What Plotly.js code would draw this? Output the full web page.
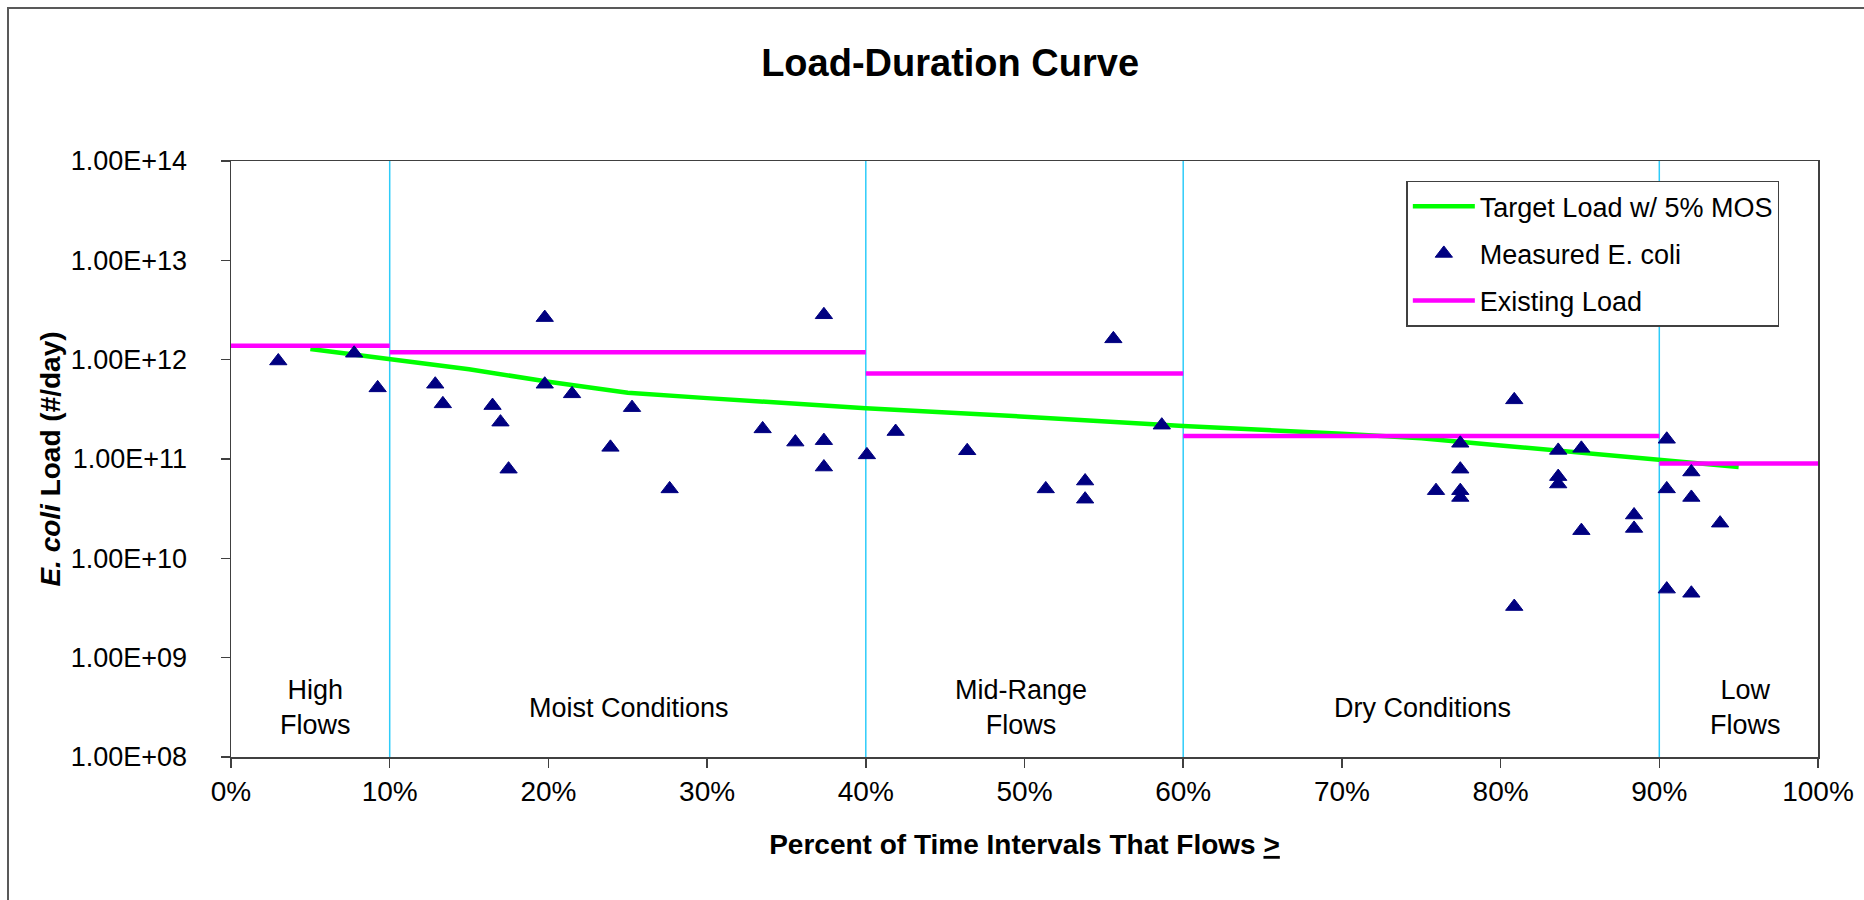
<!DOCTYPE html>
<html>
<head>
<meta charset="utf-8">
<script src="https://cdn.plot.ly/plotly-3.0.1.min.js"></script>
<style>
  html, body { margin: 0; padding: 0; background: #ffffff; overflow: hidden; }
  #wrap { position: relative; width: 1864px; height: 900px; overflow: hidden; background: #ffffff; }
  #chart { width: 1864px; height: 900px; }
  #frame { position: absolute; left: 7px; top: 7px; width: 2000px; height: 1000px;
           border-left: 2px solid #595959; border-top: 2px solid #595959; pointer-events: none; }
  .mask { position: absolute; left: 1852px; width: 12px; background: #ffffff; pointer-events: none; }
</style>
</head>
<body>
<div id="wrap">
  <div id="chart"></div>
  <div class="mask" style="top:10px; height:762px;"></div>
  <div class="mask" style="top:812px; height:88px;"></div>
  <div id="frame"></div>
</div>
<script>
// ---- Data ----
const targetPct  = [5, 10, 15, 20, 25, 30, 40, 50, 60, 70, 75, 80, 85, 90, 95];
const targetLoad = [1.28e12, 1.02e12, 8.0e11, 6.0e11, 4.65e11, 4.1e11, 3.25e11, 2.67e11,
                    2.15e11, 1.8e11, 1.62e11, 1.37e11, 1.16e11, 9.8e10, 8.3e10];

const measPct  = [2.98, 7.76, 9.24, 12.87, 13.35, 16.48, 16.98, 17.49, 19.77, 19.77,
                  21.49, 23.91, 25.27, 27.64, 33.5, 35.56, 37.36, 37.36, 37.36, 40.07,
                  41.88, 46.39, 51.34, 53.82, 53.82, 55.6, 58.65, 75.93, 77.46, 77.46,
                  77.46, 77.46, 80.86, 80.86, 83.63, 83.63, 83.63, 85.09, 85.09, 88.41,
                  88.41, 90.47, 90.47, 90.47, 92.02, 92.02, 92.02, 93.83];
const measLoad = [9.7e11, 1.16e12, 5.2e11, 5.66e11, 3.59e11, 3.45e11, 2.35e11, 7.9e10, 2.65e12, 5.66e11,
                  4.53e11, 1.31e11, 3.29e11, 5.0e10, 2.01e11, 1.48e11, 2.83e12, 1.53e11, 8.3e10, 1.1e11,
                  1.89e11, 1.21e11, 5.0e10, 6.0e10, 3.94e10, 1.62e12, 2.19e11, 4.8e10, 1.44e11, 7.9e10,
                  4.8e10, 4.1e10, 3.94e11, 3.27e9, 1.22e11, 6.65e10, 5.6e10, 1.28e11, 1.9e10, 2.73e10,
                  2.0e10, 1.58e11, 5.0e10, 4.9e9, 7.4e10, 4.1e10, 4.45e9, 2.26e10];

const zoneStart    = [0, 10, 40, 60, 90];
const zoneEnd      = [10, 40, 60, 90, 100];
const existingLoad = [1.38e12, 1.19e12, 7.24e11, 1.70e11, 9.0e10];
const zoneBounds   = [10, 40, 60, 90];
const zoneLabels   = ["High<br>Flows", "Moist Conditions", "Mid-Range<br>Flows", "Dry Conditions", "Low<br>Flows"];
const zoneLabelPct = [5.3, 25.1, 49.8, 75.1, 95.4];

const yTickVals = [1e8, 1e9, 1e10, 1e11, 1e12, 1e13, 1e14];
const yTickText = ["1.00E+08", "1.00E+09", "1.00E+10", "1.00E+11", "1.00E+12", "1.00E+13", "1.00E+14"];
const xTickVals = [0, 10, 20, 30, 40, 50, 60, 70, 80, 90, 100];
const xTickText = ["0%", "10%", "20%", "30%", "40%", "50%", "60%", "70%", "80%", "90%", "100%"];

// ---- Build segmented existing-load trace ----
const exX = [], exY = [];
zoneStart.forEach((s, i) => {
  if (i > 0) { exX.push(null); exY.push(null); }
  exX.push(s, zoneEnd[i]);
  exY.push(existingLoad[i], existingLoad[i]);
});

const FONT = "Liberation Sans, Arial, sans-serif";

const traces = [
  {
    type: "scatter", mode: "lines", name: "Target Load w/ 5% MOS",
    x: targetPct, y: targetLoad,
    line: { color: "#00FF00", width: 4.5 },
    legendrank: 1, legendgroup: "a"
  },
  {
    type: "scatter", mode: "lines", name: "Existing Load",
    x: exX, y: exY, connectgaps: false,
    line: { color: "#FF00FF", width: 4.5 },
    legendrank: 3, legendgroup: "c"
  },
  {
    type: "scatter", mode: "markers", name: "Measured E. coli",
    x: measPct, y: measLoad,
    marker: { symbol: "triangle-up", size: 15, color: "#000080",
              line: { color: "#000080", width: 1 } },
    legendrank: 2, legendgroup: "b"
  }
];

const shapes = zoneBounds.map(v => ({
  type: "line", xref: "x", yref: "paper", x0: v, x1: v, y0: 0, y1: 1,
  line: { color: "#2ECCFA", width: 1.5 }, layer: "below"
}));

const annotations = zoneLabels.map((t, i) => ({
  text: t, xref: "x", yref: "paper", x: zoneLabelPct[i], y: 0.083,
  xanchor: "center", yanchor: "middle", showarrow: false,
  font: { family: FONT, size: 27, color: "#000000" }
}));

const layout = {
  width: 1864, height: 900,
  margin: { l: 231, r: 46, t: 161, b: 143 },
  paper_bgcolor: "#FFFFFF", plot_bgcolor: "#FFFFFF",
  showlegend: true,
  title: {
    text: "<b>Load-Duration Curve</b>",
    xref: "container", yref: "container", x: 0.5097, y: 0.93,
    xanchor: "center", yanchor: "middle",
    font: { family: FONT, size: 38, color: "#000000" }
  },
  xaxis: {
    range: [0, 100], tickmode: "array", tickvals: xTickVals, ticktext: xTickText,
    showgrid: false, zeroline: false,
    showline: true, mirror: true, linecolor: "#404040", linewidth: 1.5,
    ticks: "outside", ticklen: 9, tickcolor: "#404040", tickwidth: 1.5,
    tickfont: { family: FONT, size: 28, color: "#000000" },
    title: {
      text: "<b>Percent of Time Intervals That Flows <u>></u></b>",
      font: { family: FONT, size: 28, color: "#000000" }, standoff: 28
    }
  },
  yaxis: {
    type: "log", range: [8, 14], tickmode: "array", tickvals: yTickVals, ticktext: yTickText,
    showgrid: false, zeroline: false,
    showline: true, mirror: true, linecolor: "#404040", linewidth: 1.5,
    ticks: "outside", ticklen: 9, tickcolor: "#404040", tickwidth: 1.5,
    tickfont: { family: FONT, size: 27, color: "#000000" },
    ticklabelstandoff: 28,
    title: {
      text: "<b><i>E. coli</i> Load (#/day)</b>",
      font: { family: FONT, size: 28, color: "#000000" }, standoff: 2
    }
  },
  legend: {
    x: 0.7406, y: 0.9668, xanchor: "left", yanchor: "top",
    bgcolor: "#FFFFFF", bordercolor: "#404040", borderwidth: 1.5,
    font: { family: FONT, size: 27, color: "#000000" },
    traceorder: "grouped", tracegroupgap: 9, itemwidth: 62
  },
  annotations: annotations,
  shapes: shapes
};

Plotly.newPlot("chart", traces, layout, { displayModeBar: false, staticPlot: true });
</script>
</body>
</html>
